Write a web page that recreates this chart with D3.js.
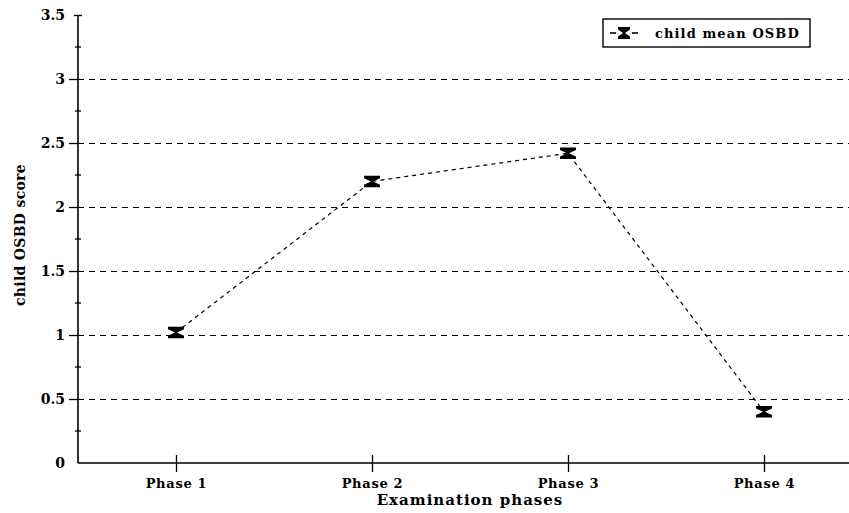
<!DOCTYPE html>
<html>
<head>
<meta charset="utf-8">
<script src="https://cdn.jsdelivr.net/npm/d3@7"></script>
<style>
  html, body { margin: 0; padding: 0; background: #fff; }
  svg { display: block; }
  text { font-family: "DejaVu Serif", "Liberation Serif", serif; font-weight: bold; fill: #000; }
</style>
</head>
<body>
<svg id="chart" width="849" height="513"></svg>
<script>
// ---- data ----
const phases = ["Phase 1", "Phase 2", "Phase 3", "Phase 4"];
const meanOSBD = [1.02, 2.20, 2.42, 0.40];
const errOSBD = [0.045, 0.045, 0.045, 0.045];
const yTickValues = [0, 0.5, 1, 1.5, 2, 2.5, 3, 3.5];
const yTickLabels = ["0", "0.5", "1", "1.5", "2", "2.5", "3", "3.5"];
const gridValues = [0.5, 1, 1.5, 2, 2.5, 3];
const minorTickValues = [0.25, 0.75, 1.25, 1.75, 2.25, 2.75, 3.25];
const seriesName = "child mean OSBD";
const xTitle = "Examination phases";
const yTitle = "child OSBD score";

(function () {
const svg = d3.select("#chart");
const W = 849, H = 513;
const mLeft = 78, mBottom = 463, mTop = 15;

const x = d3.scalePoint().domain(phases).range([mLeft, 862]).padding(0.5);
const y = d3.scaleLinear().domain([0, 3.5]).range([mBottom, mTop]);

// gridlines
svg.append("g").selectAll("line").data(gridValues).join("line")
  .attr("x1", mLeft).attr("x2", W)
  .attr("y1", d => y(d) + 0.5).attr("y2", d => y(d) + 0.5)
  .attr("stroke", "#000").attr("stroke-width", 1)
  .attr("stroke-dasharray", "6,5");

// y axis
const yAxis = d3.axisLeft(y).tickValues(yTickValues)
  .tickFormat((d, i) => yTickLabels[i]).tickSize(9).tickPadding(4);
const gy = svg.append("g").attr("transform", `translate(${mLeft},0)`).call(yAxis);
gy.select(".domain").attr("d", `M0,${y(3.5)}V${mBottom}`).attr("stroke", "#000").attr("stroke-width", 1.6);
gy.selectAll(".tick line").attr("stroke", "#000").attr("stroke-width", 1.3);
gy.selectAll(".tick text").attr("font-size", 14).attr("font-family", "DejaVu Serif").attr("font-weight", "bold");
gy.selectAll(".tick").filter(d => d === 0).select("line").remove();
gy.selectAll(".tick").filter(d => d === 3.5).select("line").attr("x1", 4).attr("x2", -4);

// minor ticks
svg.append("g").selectAll("line").data(minorTickValues).join("line")
  .attr("x1", mLeft - 3).attr("x2", mLeft + 3)
  .attr("y1", d => y(d)).attr("y2", d => y(d))
  .attr("stroke", "#000").attr("stroke-width", 1.3);

// x axis
const xAxis = d3.axisBottom(x).tickSize(0).tickPadding(16);
const gx = svg.append("g").attr("transform", `translate(0,${mBottom})`).call(xAxis);
gx.select(".domain").attr("d", `M${mLeft},0H${W}`).attr("stroke", "#000").attr("stroke-width", 1.6);
gx.selectAll(".tick line").attr("y1", -8).attr("y2", 9).attr("stroke", "#000").attr("stroke-width", 1.3);
gx.selectAll(".tick text").attr("font-size", 13).attr("font-family", "DejaVu Serif")
  .attr("font-weight", "bold").attr("letter-spacing", 0.7);

// axis titles
svg.append("text").attr("x", 470).attr("y", 505).attr("text-anchor", "middle")
  .attr("font-size", 15).attr("letter-spacing", 1).text(xTitle);
svg.append("text").attr("transform", "translate(25,235) rotate(-90)").attr("text-anchor", "middle")
  .attr("font-size", 14).attr("letter-spacing", 0.3).text(yTitle);

// data line
const line = d3.line().x((d, i) => x(phases[i])).y(d => y(d));
svg.append("path").datum(meanOSBD).attr("d", line)
  .attr("fill", "none").attr("stroke", "#000").attr("stroke-width", 1.2)
  .attr("stroke-dasharray", "4,4");

// hourglass error markers
function hourglass(cx, yT, yB, hw) {
  const cy = (yT + yB) / 2;
  return `M${cx - hw},${yT}H${cx + hw}V${yT + 2.5}L${cx + 1},${cy}L${cx + hw},${yB - 2.5}V${yB}H${cx - hw}V${yB - 2.5}L${cx - 1},${cy}L${cx - hw},${yT + 2.5}Z`;
}
svg.append("g").selectAll("path").data(meanOSBD).join("path")
  .attr("d", (d, i) => hourglass(x(phases[i]), y(d + errOSBD[i]), y(d - errOSBD[i]), 8))
  .attr("fill", "#000");

// legend
const lg = svg.append("g");
lg.append("rect").attr("x", 603).attr("y", 19).attr("width", 207).attr("height", 28)
  .attr("fill", "#fff").attr("stroke", "#000").attr("stroke-width", 1.4);
lg.append("line").attr("x1", 610).attr("x2", 616).attr("y1", 33).attr("y2", 33).attr("stroke", "#000").attr("stroke-width", 1.6);
lg.append("line").attr("x1", 632).attr("x2", 638).attr("y1", 33).attr("y2", 33).attr("stroke", "#000").attr("stroke-width", 1.6);
lg.append("path").attr("d", hourglass(624, 27, 39, 6)).attr("fill", "#000");
lg.append("text").attr("x", 655).attr("y", 38).attr("font-size", 13).attr("letter-spacing", 1.1).text(seriesName);
})();
</script>
</body>
</html>
